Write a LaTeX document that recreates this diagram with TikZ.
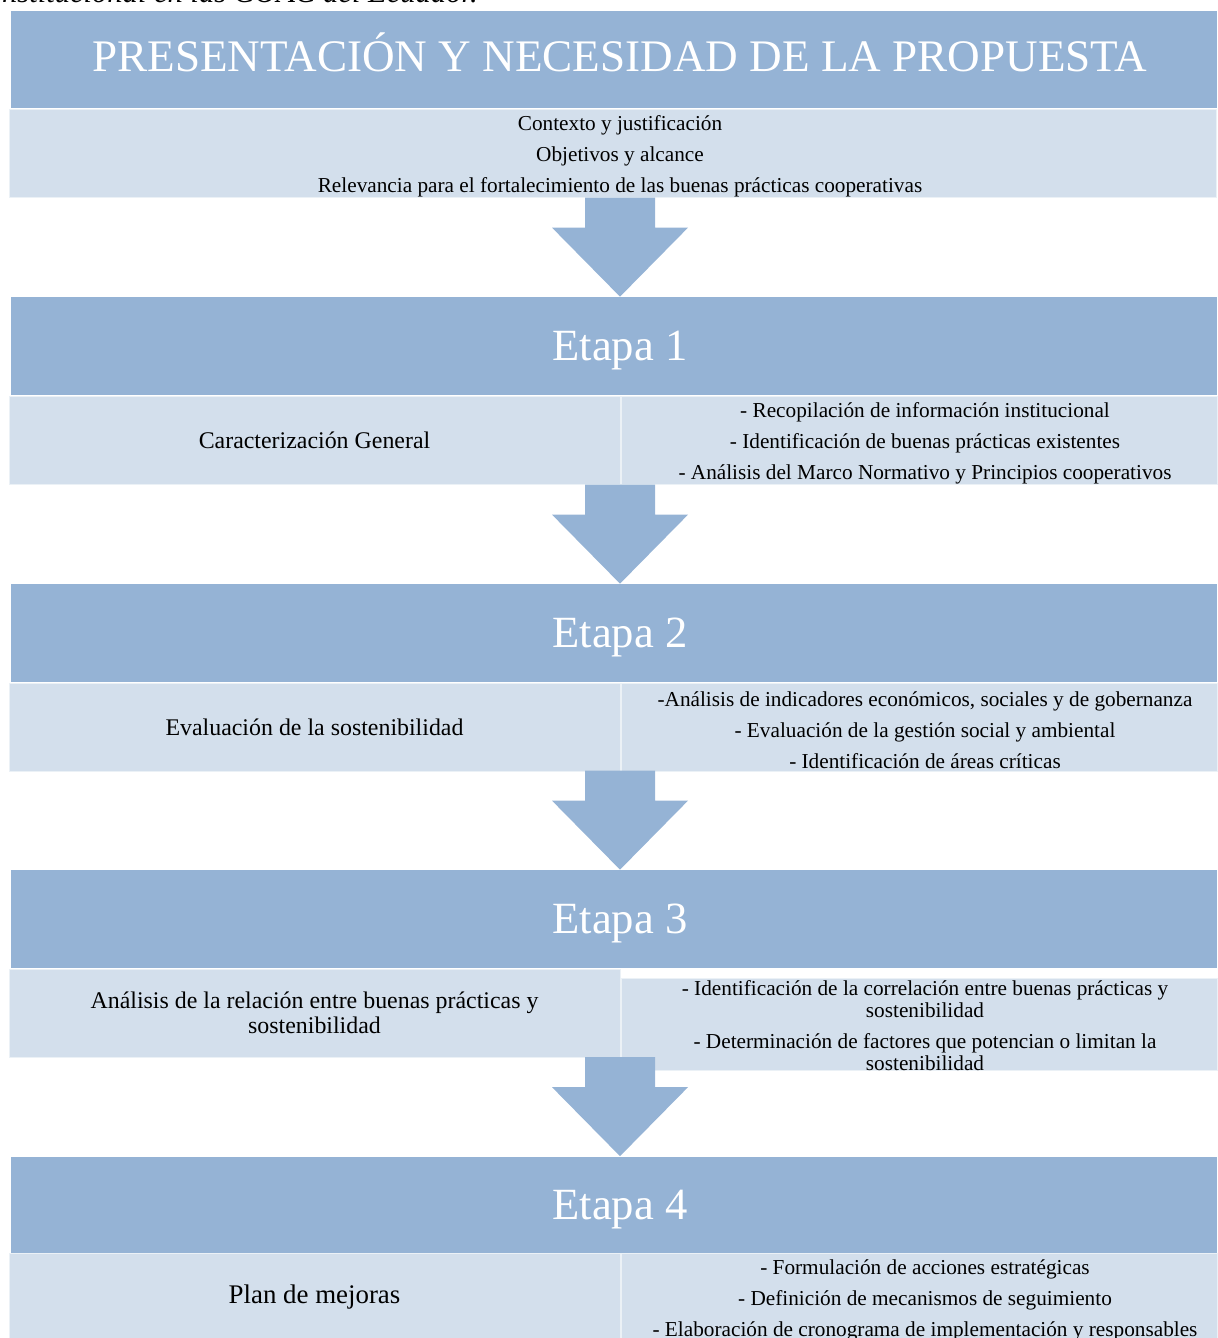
\documentclass[tikz,border=0pt]{standalone}
\usepackage{fontspec}
\setmainfont{Liberation Serif}
\usetikzlibrary{calc}
\definecolor{azul}{RGB}{149,179,213}
\definecolor{celeste}{RGB}{211,223,236}

\begin{document}
\begin{tikzpicture}[x=0.02cm,y=-0.02cm,
	cab/.style={fill=azul,inner sep=0pt,minimum width=24.12cm,minimum height=1.96cm},
	tcab/.style={text=white,inner sep=0pt,xshift=0.12cm,text height=16.8pt,text depth=0pt,font=\fontsize{25.4}{30}\selectfont},
	caja/.style={fill=celeste,draw=white!55!celeste,line width=0.5pt,inner sep=0pt,minimum height=1.76cm,align=center},
	izq/.style={caja,minimum width=12.22cm,font=\fontsize{13.6}{14.2}\selectfont},
	der/.style={caja,minimum width=11.92cm},
	tder/.style={align=center,inner sep=0pt,xshift=0.12cm,yshift=-0.06cm,font=\fontsize{12.1}{17.6}\selectfont},
	flecha/.style={fill=azul}]
	\useasboundingbox (0,0) rectangle (1217,1338);
	\node[anchor=base east,inner sep=0pt,font=\fontsize{17.4}{20}\selectfont\itshape] (tit) at (478,2.5) {Institucional en las COAC del Ecuador.}; %titulo cortado
	% cabecera
	\node[cab,minimum height=1.94cm,label={[tcab,yshift=0.05cm,font=\fontsize{25.7}{30}\selectfont]center:PRESENTACIÓN Y NECESIDAD DE LA PROPUESTA}] (e0) at (614,59.5) {};
	\node[caja,minimum width=24.16cm,label={[tder,xshift=0.02cm]center:Contexto y justificación\\Objetivos y alcance\\Relevancia para el fortalecimiento de las buenas prácticas cooperativas}] (c0) at (613,153) {};
	% etapa 1
	\node[cab,label={[tcab]center:Etapa 1}] (e1) at (614,346) {};
	\node[izq] (i1) at (314.5,440) {Caracterización General};
	\node[der,label={[tder]center:- Recopilación de información institucional\\- Identificación de buenas prácticas existentes\\- Análisis del Marco Normativo y Principios cooperativos}] (r1) at (919,440) {};
	% etapa 2
	\node[cab,label={[tcab]center:Etapa 2}] (e2) at (614,633) {};
	\node[izq] (i2) at (314.5,727) {Evaluación de la sostenibilidad};
	\node[der,label={[tder]center:-Análisis de indicadores económicos, sociales y de gobernanza\\- Evaluación de la gestión social y ambiental\\- Identificación de áreas críticas}] (r2) at (919,727) {};
	% etapa 3
	\node[cab,label={[tcab]center:Etapa 3}] (e3) at (614,919) {};
	\node[izq] (i3) at (314.5,1013) {Análisis de la relación entre buenas prácticas y\\sostenibilidad};
	\node[der,minimum height=1.84cm,label={[tder,yshift=0.02cm,font=\fontsize{12.1}{12.5}\selectfont]center:- Identificación de la correlación entre buenas prácticas y\\sostenibilidad\\[5.1pt]- Determinación de factores que potencian o limitan la\\sostenibilidad}] (r3) at (919,1024) {};
	% etapa 4
	\node[cab,minimum height=1.92cm,label={[tcab]center:Etapa 4}] (e4) at (614,1204.5) {};
	\node[izq,font=\fontsize{15.3}{18}\selectfont] (i4) at (314.5,1297) {Plan de mejoras};
	\node[der,label={[tder]center:- Formulación de acciones estratégicas\\- Definición de mecanismos de seguimiento\\- Elaboración de cronograma de implementación y responsables}] (r4) at (919,1297) {};
	% flechas
	\foreach \e in {e1,e2,e3,e4}
		\fill[flecha] ($(\e.north)+(6,0)$) -- ++(68,-69) -- ++(-33,0) -- ++(0,-30) -- ++(-70,0) -- ++(0,30) -- ++(-33,0) -- cycle;
\end{tikzpicture}
\end{document}
